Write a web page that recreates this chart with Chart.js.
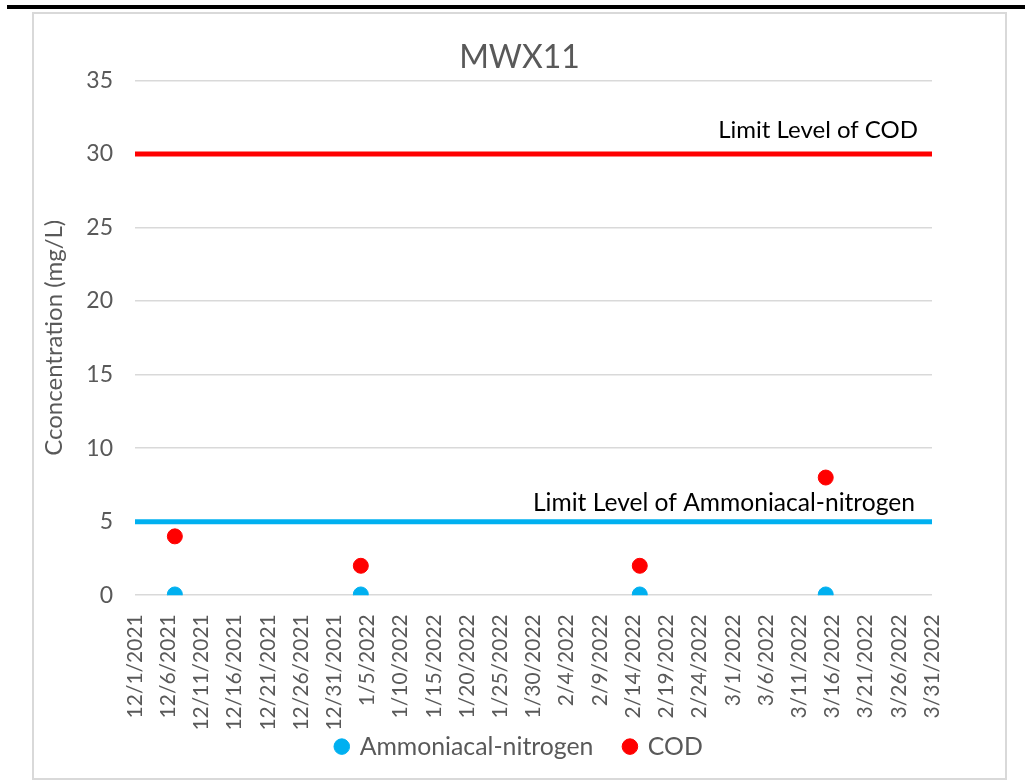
<!DOCTYPE html>
<html>
<head>
<meta charset="utf-8">
<title>MWX11</title>
<script src="https://cdn.jsdelivr.net/npm/chart.js@4.4.1/dist/chart.umd.min.js"></script>
<style>
  html, body { margin: 0; padding: 0; background: #ffffff; }
  body { width: 1025px; height: 782px; position: relative; overflow: hidden; }
  #topBar { position: absolute; left: 7px; right: 0; top: 5px; height: 4px; background: #000000; }
  #chartBox {
    position: absolute; left: 32px; top: 12px; width: 975px; height: 768px;
    box-sizing: border-box; border: 2px solid #d9d9d9; background: #ffffff;
  }
  #chartBox canvas { display: block; }
</style>
</head>
<body>
<div id="topBar"></div>
<div id="chartBox"><canvas id="chart" width="971" height="764"></canvas></div>
<script>
/* ----------------------------- */
/* DATA                          */
/* ----------------------------- */
const axisStartDate = "12/1/2021";
const axisEndDate = "3/31/2022";
const tickStepDays = 5;

const sampleDates = ["12/7/2021", "1/4/2022", "2/15/2022", "3/15/2022"];
const ammoniaValues = [0.05, 0.05, 0.05, 0.05];
const codValues = [4, 2, 2, 8];

const ammoniaLimit = 5;
const codLimit = 30;

const yMin = 0;
const yMax = 35;
const yStep = 5;

/* ----------------------------- */
/* HELPERS                       */
/* ----------------------------- */
const parseDate = (text) => {
  const [m, d, y] = text.split("/").map(Number);
  return new Date(y, m - 1, d);
};
const startDate = parseDate(axisStartDate);
const dayOffset = (text) =>
  Math.round((parseDate(text) - startDate) / 86400000);
const dayLabel = (offset) => {
  const d = new Date(
    startDate.getFullYear(),
    startDate.getMonth(),
    startDate.getDate() + offset,
  );
  return `${d.getMonth() + 1}/${d.getDate()}/${d.getFullYear()}`;
};
const toPoints = (values) =>
  sampleDates.map((date, i) => ({ x: dayOffset(date), y: values[i] }));
const limitPoints = (value) => [
  { x: 0, y: value },
  { x: dayOffset(axisEndDate), y: value },
];

/* ----------------------------- */
/* PLUGINS                       */
/* ----------------------------- */
// text labels sitting just above the two limit lines
const limitLabels = {
  id: "limitLabels",
  afterDatasetsDraw(chart) {
    const { ctx, chartArea, scales } = chart;
    const right = chartArea.right - 14;
    ctx.save();
    ctx.fillStyle = "#000000";
    ctx.textAlign = "right";
    ctx.textBaseline = "alphabetic";
    ctx.font = "24px Lato";
    ctx.fillText("Limit Level of COD", right, scales.y.getPixelForValue(codLimit) - 16);
    ctx.font = "24.6px Lato";
    ctx.fillText(
      "Limit Level of Ammoniacal-nitrogen",
      right - 3,
      scales.y.getPixelForValue(ammoniaLimit) - 11,
    );
    ctx.restore();
  },
};

// legend padding also sets the gap between items, so pull the box up
// to keep the wide gap without pushing the text down
const legendLift = {
  id: "legendLift",
  afterLayout(chart) {
    const legend = chart.legend;
    if (!legend) return;
    legend.top -= 26;
    legend.bottom -= 26;
  },
};

/* ----------------------------- */
/* CHART                         */
/* ----------------------------- */
const blue = "#00b0f0";
const red = "#ff0000";
const grey = "#595959";

const drawChart = () => {
  Chart.defaults.font.family = "Lato";
  Chart.defaults.color = grey;

  new Chart(document.getElementById("chart"), {
    type: "scatter",
    data: {
      datasets: [
        {
          label: "Ammoniacal-nitrogen",
          data: toPoints(ammoniaValues),
          backgroundColor: blue,
          borderColor: blue,
          pointRadius: 7.5,
          pointHoverRadius: 7.5,
        },
        {
          label: "COD",
          data: toPoints(codValues),
          backgroundColor: red,
          borderColor: red,
          pointRadius: 7.5,
          pointHoverRadius: 7.5,
        },
        {
          label: "Limit Level of Ammoniacal-nitrogen",
          data: limitPoints(ammoniaLimit),
          showLine: true,
          borderColor: blue,
          backgroundColor: blue,
          borderWidth: 5,
          borderCapStyle: "round",
          pointRadius: 0,
        },
        {
          label: "Limit Level of COD",
          data: limitPoints(codLimit),
          showLine: true,
          borderColor: red,
          backgroundColor: red,
          borderWidth: 5,
          borderCapStyle: "round",
          pointRadius: 0,
        },
      ],
    },
    options: {
      responsive: false,
      animation: false,
      layout: { padding: { left: 0, right: 0, top: 0, bottom: -17 } },
      plugins: {
        title: {
          display: true,
          text: "MWX11",
          color: grey,
          font: { size: 32, weight: "normal" },
          padding: { top: 24, bottom: 4 },
        },
        legend: {
          position: "bottom",
          labels: {
            usePointStyle: true,
            pointStyle: "circle",
            boxWidth: 11,
            boxHeight: 11,
            padding: 31,
            color: grey,
            font: { size: 24.8 },
            filter: (item) => item.datasetIndex < 2,
          },
        },
        tooltip: { enabled: false },
      },
      scales: {
        x: {
          type: "linear",
          min: 0,
          max: dayOffset(axisEndDate),
          afterFit: (scale) => {
            scale.height = 134;
          },
          grid: { display: false },
          border: { display: false },
          ticks: {
            stepSize: tickStepDays,
            autoSkip: false,
            minRotation: 90,
            maxRotation: 90,
            padding: 11,
            color: grey,
            font: { size: 21 },
            callback: (value) => dayLabel(value),
          },
        },
        y: {
          min: yMin,
          max: yMax,
          afterFit: (scale) => {
            scale.width = 101;
          },
          grid: { color: "#d9d9d9", lineWidth: 1.5, drawTicks: false },
          border: { display: false },
          ticks: {
            stepSize: yStep,
            padding: 22,
            color: grey,
            font: { size: 23 },
          },
          title: {
            display: true,
            text: "Cconcentration (mg/L)",
            color: grey,
            font: { size: 24 },
            padding: { top: 6, bottom: 0 },
          },
        },
        // empty right-hand axis keeps the plot clear of the right border
        rightSpace: {
          position: "right",
          display: true,
          afterFit: (scale) => {
            scale.width = 73;
          },
          grid: { display: false },
          border: { display: false },
          ticks: { display: false },
        },
      },
    },
    plugins: [limitLabels, legendLift],
  });
};

document.fonts.load("20px Lato").then(drawChart, drawChart);
</script>
</body>
</html>
